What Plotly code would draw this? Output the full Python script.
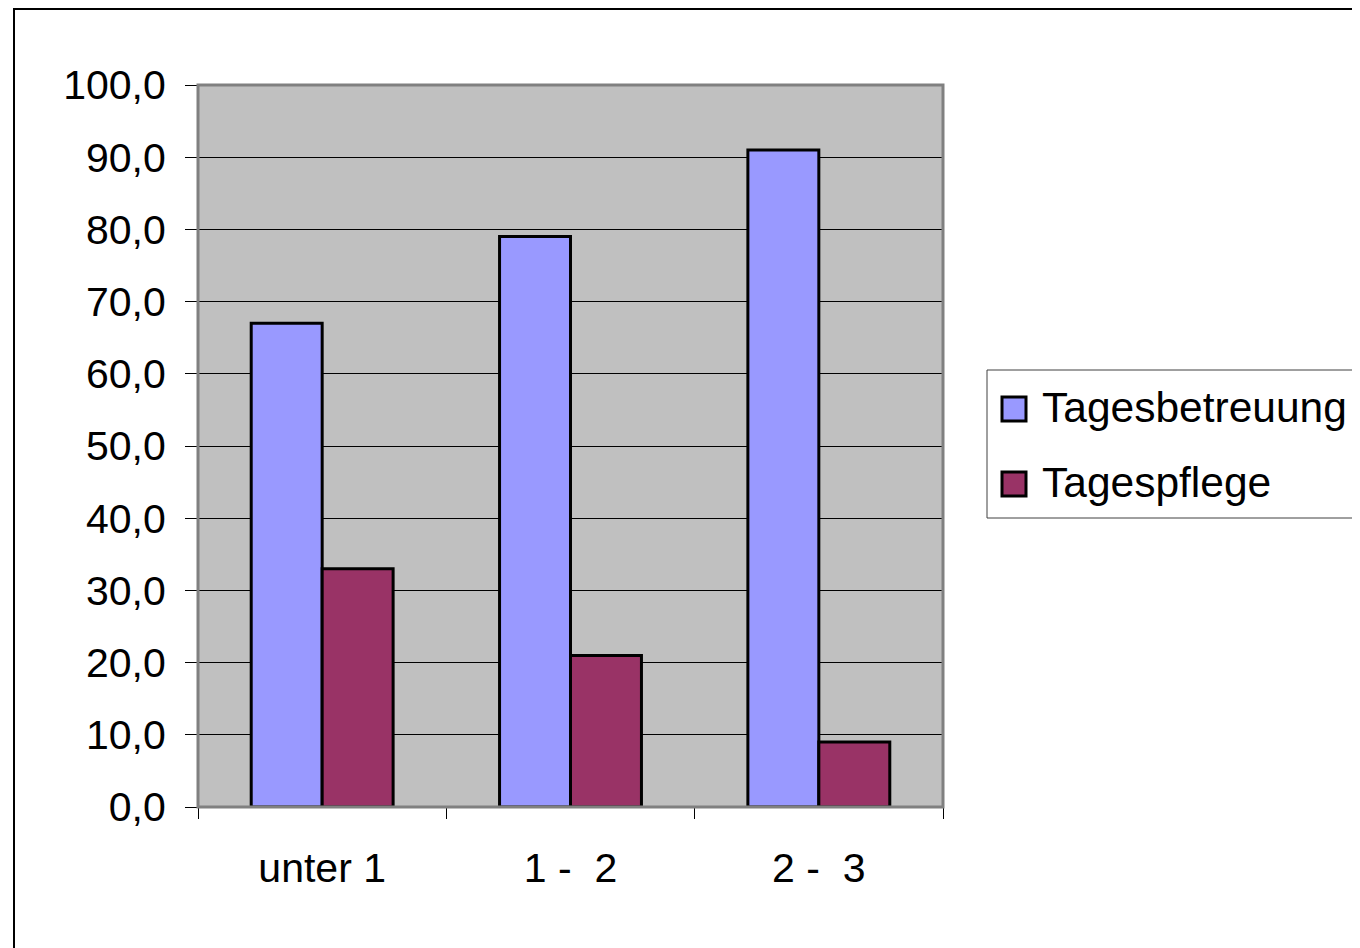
import plotly.graph_objects as go

categories = ["unter 1", "1 - \u00a02", "2 - \u00a03"]
tagesbetreuung = [67.0, 79.0, 91.0]
tagespflege = [33.0, 21.0, 9.0]
series_names = ["Tagesbetreuung", "Tagespflege"]
colors = ["#9999FF", "#993366"]

OFF = 8  # page body margin offset
W, H = 1360 - OFF, 948 - OFF
L, R, T, B = 198, 943, 85, 807   # target page coords of plot area
pw, ph = R - L, B - T

def px(x):
    return (x - L) / pw

def py(y):
    return (B - y) / ph

FONT = "Liberation Sans, Arial, sans-serif"

fig = go.Figure()
for name, vals, col in zip(series_names, [tagesbetreuung, tagespflege], colors):
    fig.add_trace(go.Bar(
        x=categories, y=vals, name=name,
        marker=dict(color=col, line=dict(color="black", width=3)),
        showlegend=False,
    ))

shapes = []
# outer chart frame
shapes.append(dict(type="rect", xref="paper", yref="paper",
                   x0=px(14), x1=px(1370), y0=py(960), y1=py(9),
                   line=dict(color="black", width=2), layer="below"))
# plot area border
shapes.append(dict(type="rect", xref="paper", yref="paper",
                   x0=0, x1=1, y0=0, y1=1,
                   line=dict(color="#808080", width=3), layer="above"))
# legend box
shapes.append(dict(type="rect", xref="paper", yref="paper",
                   x0=px(987), x1=px(1375), y0=py(518), y1=py(370),
                   line=dict(color="#404040", width=1), fillcolor="white"))
annotations = []
for i, (name, col) in enumerate(zip(series_names, colors)):
    cy = 409 + i * 75
    shapes.append(dict(type="rect", xref="paper", yref="paper",
                       x0=px(1002), x1=px(1026), y0=py(cy + 12), y1=py(cy - 12),
                       line=dict(color="black", width=3), fillcolor=col))
    annotations.append(dict(xref="paper", yref="paper", x=px(1040), y=py(cy - 2),
                            text=name, showarrow=False, xanchor="left", yanchor="middle",
                            font=dict(family=FONT, size=42.5, color="black")))

fig.update_layout(
    width=W, height=H,
    margin=dict(l=L - OFF, r=W - (R - OFF), t=T - OFF, b=H - (B - OFF), pad=0),
    paper_bgcolor="white",
    plot_bgcolor="#C0C0C0",
    barmode="group",
    bargap=1.5 / 3.5,
    bargroupgap=0,
    separators=",.",
    font=dict(family=FONT, size=41, color="black"),
    shapes=shapes,
    annotations=annotations,
    xaxis=dict(
        showgrid=False, ticks="outside", ticklen=11, tickwidth=1, tickcolor="black",
        tickson="boundaries", showline=False, zeroline=False,
        ticklabelstandoff=33,
        tickfont=dict(family=FONT, size=41, color="black"),
    ),
    yaxis=dict(
        range=[0, 100], dtick=10, tick0=0, tickformat=".1f",
        showgrid=True, gridcolor="black", gridwidth=1,
        ticks="outside", ticklen=12, tickwidth=1, tickcolor="black",
        showline=False, zeroline=False,
        ticklabelstandoff=11,
        tickfont=dict(family=FONT, size=41, color="black"),
    ),
)

fig.write_html("out.html")
